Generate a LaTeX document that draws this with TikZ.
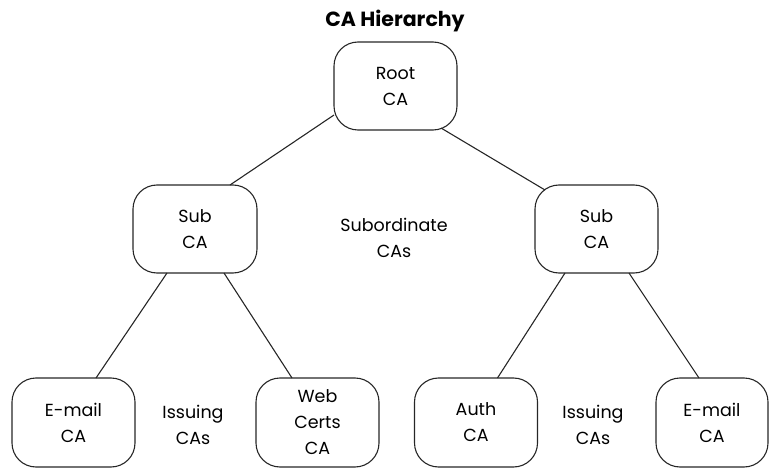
\documentclass[tikz,border=0pt]{standalone}
\usepackage{fontspec}
\setmainfont{Poppins}
\usetikzlibrary{calc}
\begin{document}
\begin{tikzpicture}[x=1pt,y=-1pt,
  ca/.style={draw=black!85, line width=1.1pt, rounded corners=24pt,
    minimum width=123pt, minimum height=88pt, inner sep=0pt, outer sep=0pt,
    align=center, font=\fontsize{17.5}{26}\selectfont},
  label/.style={align=center, inner sep=0pt, font=\fontsize{17.5}{26}\selectfont},
  link/.style={draw=black!85, line width=1.1pt}]
\useasboundingbox (0,0) rectangle (769,468);

\node[font=\bfseries\fontsize{20.5}{24}\selectfont] (title) at (395,21) {CA Hierarchy};

% top level
\node[ca] (root) at (395.5,86) {Root\\CA};

% subordinate level
\node[ca, minimum width=124pt] (subL) at (195,229) {Sub\\CA};
\node[ca] (subR) at (596.5,229) {Sub\\CA};
\node[label] (subtxt) at (394,238) {Subordinate\\CAs};

% issuing level
\node[ca, minimum height=89pt] (emailL) at (73.5,422.5) {E-mail\\CA};
\node[ca, minimum height=89pt] (web) at (317.5,422.5) {Web\\Certs\\CA};
\node[ca, minimum height=89pt] (auth) at (476,422.5) {Auth\\CA};
\node[ca, minimum height=89pt, minimum width=112pt] (emailR) at (712,422.5) {E-mail\\CA};
\node[label] (issL) at (193,425) {Issuing\\CAs};
\node[label] (issR) at (593,425) {Issuing\\CAs};

% connectors
\draw[link] ($(root.west)+(0,29)$) -- ($(subL.north east)+(-27,0)$);
\draw[link] ($(root.south east)+(-16,-2)$) -- ($(subR.north west)+(10,5)$);
\draw[link] ($(subL.south west)+(34,0)$) -- ($(emailL.north east)+(-39,0)$);
\draw[link] ($(subL.south east)+(-33,0)$) -- ($(web.north west)+(36,0)$);
\draw[link] ($(subR.south west)+(30,0)$) -- ($(auth.north east)+(-40,0)$);
\draw[link] ($(subR.south east)+(-29,0)$) -- ($(emailR.north west)+(43,0)$);
\end{tikzpicture}
\end{document}
